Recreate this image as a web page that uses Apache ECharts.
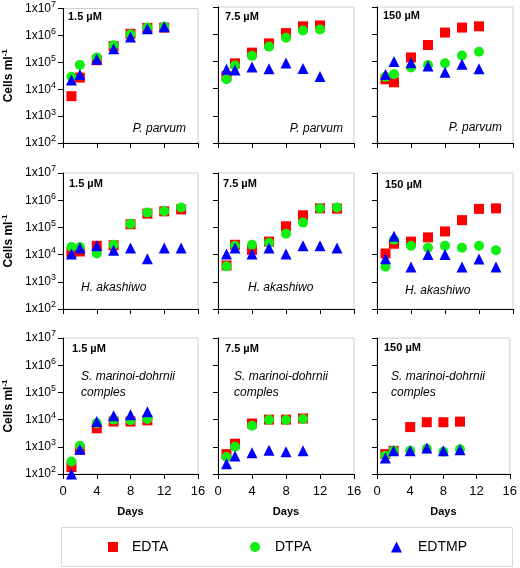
<!DOCTYPE html>
<html>
<head>
<meta charset="utf-8">
<script src="https://cdn.jsdelivr.net/npm/echarts@6/dist/echarts.min.js"></script>
<style>
html,body{margin:0;padding:0;background:#fff;}
#c{width:520px;height:568px;}
</style>
</head>
<body>
<div id="c"></div>
<script>
// ---- data ----
const daysPP = [1, 2, 4, 6, 8, 10, 12];
const daysHA = [1, 2, 4, 6, 8, 10, 12, 14];
const daysSM = [1, 2, 4, 6, 8, 10];

const xTicks = [0, 4, 8, 12, 16];
const yTickExponents = [2, 3, 4, 5, 6, 7];

const seriesNames = ['EDTA', 'DTPA', 'EDTMP'];
const concLabels = ['1.5 µM', '7.5 µM', '150 µM'];
const speciesLabels = ['P. parvum', 'H. akashiwo', 'S. marinoi-dohrnii\ncomples'];

const pp15_EDTA  = [5.5e3, 2.7e4, 1.2e5, 4.0e5, 1.15e6, 1.9e6, 1.95e6];
const pp15_DTPA  = [2.9e4, 8.0e4, 1.5e5, 4.3e5, 1.1e6, 1.95e6, 2.1e6];
const pp15_EDTMP = [2.2e4, 3.5e4, 1.3e5, 3.2e5, 8.8e5, 1.75e6, 2.1e6];

const pp75_EDTA  = [2.9e4, 8.5e4, 2.1e5, 4.6e5, 1.1e6, 1.95e6, 2.1e6];
const pp75_DTPA  = [2.2e4, 7.0e4, 1.6e5, 3.5e5, 7.4e5, 1.36e6, 1.5e6];
const pp75_EDTMP = [5.1e4, 4.8e4, 6.2e4, 5.4e4, 8.7e4, 5.5e4, 2.8e4];

const pp150_EDTA  = [2.2e4, 1.7e4, 1.4e5, 4.0e5, 1.15e6, 1.75e6, 1.95e6];
const pp150_DTPA  = [2.7e4, 3.4e4, 6.0e4, 7.3e4, 8.5e4, 1.65e5, 2.25e5];
const pp150_EDTMP = [3.3e4, 1.0e5, 9.0e4, 6.8e4, 4.0e4, 7.8e4, 5.4e4];

const ha15_EDTA  = [1.25e4, 1.3e4, 2.1e4, 2.2e4, 1.3e5, 3.2e5, 3.9e5, 4.6e5];
const ha15_DTPA  = [1.9e4, 1.9e4, 1.1e4, 2.3e4, 1.35e5, 3.5e5, 3.9e5, 5.4e5];
const ha15_EDTMP = [1.05e4, 1.75e4, 2.1e4, 1.45e4, 1.75e4, 7.0e3, 1.75e4, 1.75e4];

const ha75_EDTA  = [4.0e3, 2.3e4, 1.5e4, 3.0e4, 1.1e5, 2.8e5, 5.0e5, 4.9e5];
const ha75_DTPA  = [3.7e3, 2.1e4, 2.3e4, 2.7e4, 5.9e4, 1.5e5, 5.0e5, 5.4e5];
const ha75_EDTMP = [1.05e4, 1.75e4, 1.05e4, 1.75e4, 1.05e4, 2.1e4, 2.1e4, 1.75e4];

const ha150_EDTA  = [1.1e4, 2.5e4, 3.0e4, 4.3e4, 7.1e4, 1.85e5, 4.8e5, 5.0e5];
const ha150_DTPA  = [3.6e3, 3.5e4, 2.1e4, 1.8e4, 2.1e4, 1.8e4, 2.1e4, 1.45e4];
const ha150_EDTMP = [7.0e3, 4.7e4, 3.5e3, 1.0e4, 1.0e4, 3.5e3, 6.9e3, 3.5e3];

const sm15_EDTA  = [180, 770, 4.8e3, 8.5e3, 8.5e3, 9.4e3];
const sm15_DTPA  = [290, 1.1e3, 7.4e3, 1.0e4, 9.4e3, 1.05e4];
const sm15_EDTMP = [100, 820, 8.5e3, 1.4e4, 1.5e4, 1.95e4];

const sm75_EDTA  = [540, 1.3e3, 7.2e3, 1.0e4, 1.0e4, 1.1e4];
const sm75_DTPA  = [420, 1.0e3, 5.9e3, 9.8e3, 9.6e3, 1.05e4];
const sm75_EDTMP = [240, 460, 600, 740, 660, 710];

const sm150_EDTA  = [540, 710, 5.3e3, 8.0e3, 8.0e3, 8.4e3];
const sm150_DTPA  = [470, 710, 710, 850, 660, 810];
const sm150_EDTMP = [390, 710, 710, 910, 710, 780];

// ---- layout ----
const colLeft = [62, 218, 377];
const rowTop = [7, 173, 338];
const panelW = 136, panelH = 136;
const FONT = '"Liberation Sans", Arial, sans-serif';

const panels = [
  { days: daysPP, vals: [pp15_EDTA, pp15_DTPA, pp15_EDTMP] },
  { days: daysPP, vals: [pp75_EDTA, pp75_DTPA, pp75_EDTMP] },
  { days: daysPP, vals: [pp150_EDTA, pp150_DTPA, pp150_EDTMP] },
  { days: daysHA, vals: [ha15_EDTA, ha15_DTPA, ha15_EDTMP] },
  { days: daysHA, vals: [ha75_EDTA, ha75_DTPA, ha75_EDTMP] },
  { days: daysHA, vals: [ha150_EDTA, ha150_DTPA, ha150_EDTMP] },
  { days: daysSM, vals: [sm15_EDTA, sm15_DTPA, sm15_EDTMP] },
  { days: daysSM, vals: [sm75_EDTA, sm75_DTPA, sm75_EDTMP] },
  { days: daysSM, vals: [sm150_EDTA, sm150_DTPA, sm150_EDTMP] }
];

const colors = ['#ff0000', '#11ee11', '#0000ff'];
const symbols = ['rect', 'circle', 'triangle'];
const sizes = [10, 10, 11];

const grids = [], xAxes = [], yAxes = [], series = [];
panels.forEach((p, i) => {
  const r = Math.floor(i / 3), c = i % 3;
  grids.push({
    left: colLeft[c], top: rowTop[r], width: panelW, height: panelH,
    show: true, borderColor: '#cfcfcf', borderWidth: 1, backgroundColor: 'transparent'
  });
  xAxes.push({
    gridIndex: i, type: 'value', min: xTicks[0], max: xTicks[xTicks.length - 1],
    interval: xTicks[1] - xTicks[0],
    axisLine: { show: true, onZero: false, lineStyle: { color: '#000', width: 1 } },
    axisTick: { show: true, length: 5, lineStyle: { color: '#000' } },
    splitLine: { show: false },
    axisLabel: { show: r === 2, margin: 11, fontSize: 13, color: '#000', fontFamily: FONT },
    name: r === 2 ? 'Days' : '', nameLocation: 'middle', nameGap: 32,
    nameTextStyle: { fontSize: 11, fontWeight: 'bold', color: '#000', fontFamily: FONT }
  });
  yAxes.push({
    gridIndex: i, type: 'log', logBase: 10,
    min: Math.pow(10, yTickExponents[0]), max: Math.pow(10, yTickExponents[yTickExponents.length - 1]),
    splitNumber: yTickExponents.length - 1,
    axisLine: { show: true, lineStyle: { color: '#000', width: 1 } },
    axisTick: { show: true, length: 5, lineStyle: { color: '#000' } },
    splitLine: { show: false },
    minorTick: { show: false },
    axisLabel: {
      show: c === 0, margin: 7, color: '#000', fontFamily: FONT, fontSize: 12,
      formatter: v => '{m|1x10}{s|' + Math.round(Math.log10(v)) + '}',
      rich: {
        m: { fontSize: 12, fontFamily: FONT, color: '#000' },
        s: { fontSize: 9, verticalAlign: 'top', padding: [0, 0, 8, 0], fontFamily: FONT, color: '#000' }
      }
    },
    name: c === 0 ? 'Cells ml{s|-1}' : '', nameLocation: 'middle', nameGap: 46, nameRotate: 90,
    nameTextStyle: {
      fontSize: 12, fontWeight: 'bold', color: '#000', fontFamily: FONT,
      rich: { s: { fontSize: 8, fontWeight: 'bold', verticalAlign: 'top', padding: [0, 0, 8, 0], fontFamily: FONT, color: '#000' } }
    }
  });
  p.vals.forEach((arr, k) => {
    series.push({
      name: seriesNames[k], type: 'scatter', xAxisIndex: i, yAxisIndex: i,
      symbol: symbols[k], symbolSize: sizes[k],
      itemStyle: { color: colors[k], opacity: 1 },
      data: p.days.map((d, j) => [d, arr[j]])
    });
  });
});

// ---- text annotations ----
const graphics = [];
const concPos = [
  [[68, 17], [225, 17], [383, 16]],
  [[69, 184], [223, 184], [385, 185]],
  [[72, 349], [225, 349], [384, 348]]
];
concPos.forEach((row, r) => row.forEach((pt, c) => {
  graphics.push({ type: 'text', x: pt[0], y: pt[1], silent: true,
    style: { text: concLabels[c], fill: '#000', font: 'bold 11px ' + FONT, textVerticalAlign: 'middle' } });
}));
// P. parvum: right aligned
[[186, 129], [343, 129], [502, 128]].forEach(pt => {
  graphics.push({ type: 'text', x: pt[0], y: pt[1], silent: true,
    style: { text: speciesLabels[0], fill: '#000', font: 'italic 12px ' + FONT, textAlign: 'right', textVerticalAlign: 'middle' } });
});
[[81, 288], [248, 288], [405, 291]].forEach(pt => {
  graphics.push({ type: 'text', x: pt[0], y: pt[1], silent: true,
    style: { text: speciesLabels[1], fill: '#000', font: 'italic 12px ' + FONT, textVerticalAlign: 'middle' } });
});
[[81, 376], [234, 376], [391, 376]].forEach(pt => {
  graphics.push({ type: 'text', x: pt[0], y: pt[1] - 7, silent: true,
    style: { text: speciesLabels[2], fill: '#000', font: 'italic 12px ' + FONT, lineHeight: 16 } });
});
// legend frame
graphics.push({ type: 'rect', silent: true, shape: { x: 61.5, y: 527.5, width: 451, height: 39 },
  style: { fill: 'none', stroke: '#d8d8d8', lineWidth: 1 } });

const legendLeft = [108, 250, 391];
const legendPad = [9, 10, 11];
const legends = seriesNames.map((n, k) => ({
  data: [{ name: n, icon: symbols[k] }], left: legendLeft[k], top: 540, padding: 0,
  itemWidth: k === 2 ? 11 : 10, itemHeight: k === 2 ? 11 : 10, selectedMode: false,
  textStyle: { fontSize: 14, color: '#000', fontFamily: FONT, padding: [0, 0, 0, legendPad[k]] }
}));

const chart = echarts.init(document.getElementById('c'), null, { renderer: 'canvas' });
chart.setOption({
  animation: false,
  backgroundColor: '#fff',
  grid: grids, xAxis: xAxes, yAxis: yAxes, series: series,
  legend: legends, graphic: graphics
});
</script>
</body>
</html>
